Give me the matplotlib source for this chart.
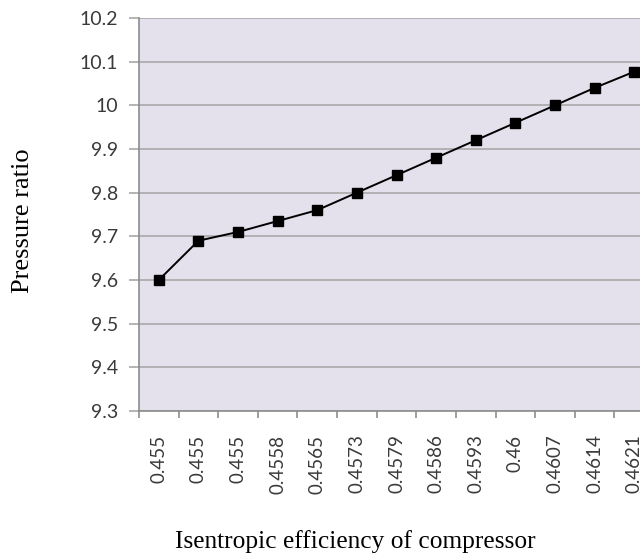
import matplotlib.pyplot as plt

# isentropic efficiency of the compressor (category labels) vs. pressure ratio
efficiency = ['0.455', '0.455', '0.455', '0.4558', '0.4565', '0.4573', '0.4579',
              '0.4586', '0.4593', '0.46', '0.4607', '0.4614', '0.4621']
pressure_ratio = [9.60, 9.69, 9.71, 9.735, 9.76, 9.80, 9.84,
                  9.88, 9.92, 9.96, 10.0, 10.04, 10.077]

fig = plt.figure(figsize=(6.4, 5.57), dpi=100)
# plot area runs a bit past the right edge of the figure
ax = fig.add_axes([139 / 640, 1 - 411 / 557, 515 / 640, 393 / 557])
ax.set_facecolor('#E4E0EC')

x = range(len(efficiency))
ax.plot(x, pressure_ratio, color='black', lw=1.4, marker='s', ms=6.5,
        zorder=3, clip_on=False)

ax.set_xlim(-0.5, len(efficiency) - 0.5)
ax.set_ylim(9.3, 10.2)
ax.set_yticks([9.3 + 0.1 * i for i in range(10)])
ax.set_yticklabels(['9.3', '9.4', '9.5', '9.6', '9.7', '9.8', '9.9', '10', '10.1', '10.2'])
ax.set_xticks(list(x))
ax.set_xticklabels(efficiency, rotation=90, va='top', ha='center')
ax.set_xticks([i - 0.5 for i in range(len(efficiency) + 1)], minor=True)

ax.yaxis.grid(True, color='#A8A8A8', lw=1.2)
ax.set_axisbelow(True)
for s in ['top', 'right']:
    ax.spines[s].set_visible(False)
for s in ['left', 'bottom']:
    ax.spines[s].set_color('#8C8C8C')
    ax.spines[s].set_linewidth(1.2)

ax.tick_params(axis='x', which='major', length=0, pad=17)
ax.tick_params(axis='x', which='minor', length=5, color='#8C8C8C', width=1.2)
ax.tick_params(axis='y', length=7, color='#A8A8A8', width=1.2, pad=8)
for lab in ax.get_xticklabels():
    lab.set_fontfamily('Lato')
    lab.set_fontsize(13.5)
    lab.set_color('#3A3A3A')
for lab in ax.get_yticklabels():
    lab.set_fontfamily('Lato')
    lab.set_fontsize(14)
    lab.set_color('#3A3A3A')

ax.set_ylabel('Pressure ratio', fontfamily='Liberation Serif', fontsize=19)
ax.yaxis.set_label_coords(-0.204, 0.483)
fig.text(355 / 640, 1 - 542 / 557, 'Isentropic efficiency of compressor',
         fontfamily='Liberation Serif', fontsize=18.3, ha='center', va='center')

fig.savefig('out.png', dpi=100)
